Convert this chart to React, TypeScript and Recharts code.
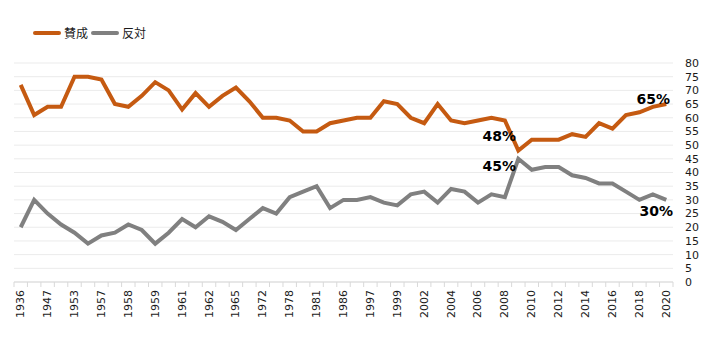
import React from 'react';
import {
  LineChart,
  Line,
  XAxis,
  YAxis,
  CartesianGrid,
  Legend,
  LabelList,
} from 'recharts';

// survey years (every second one is labelled on the axis)
const years = [
  '1936', '1937', '1947', '1949', '1953', '1957', '1957', '1958', '1958', '1959',
  '1959', '1961', '1961', '1961', '1962', '1963', '1965', '1967', '1972', '1973',
  '1978', '1979', '1981', '1985', '1986', '1991', '1997', '1998', '1999', '2001',
  '2002', '2003', '2004', '2005', '2006', '2007', '2008', '2009', '2010', '2011',
  '2012', '2013', '2014', '2015', '2016', '2017', '2018', '2019', '2020',
];

const approve = [
  72, 61, 64, 64, 75, 75, 74, 65, 64, 68, 73, 70, 63, 69, 64, 68, 71, 66, 60, 60,
  59, 55, 55, 58, 59, 60, 60, 66, 65, 60, 58, 65, 59, 58, 59, 60, 59, 48, 52, 52,
  52, 54, 53, 58, 56, 61, 62, 64, 65,
];

const disapprove = [
  20, 30, 25, 21, 18, 14, 17, 18, 21, 19, 14, 18, 23, 20, 24, 22, 19, 23, 27, 25,
  31, 33, 35, 27, 30, 30, 31, 29, 28, 32, 33, 29, 34, 33, 29, 32, 31, 45, 41, 42,
  42, 39, 38, 36, 36, 33, 30, 32, 30,
];

const seriesNames = ['賛成', '反対'];
const yTicks = [0, 5, 10, 15, 20, 25, 30, 35, 40, 45, 50, 55, 60, 65, 70, 75, 80];
const calloutIndexes = [37, 48];

const data = years.map((year, i) => ({
  year,
  approve: approve[i],
  disapprove: disapprove[i],
}));

const W = 707;
const H = 363;
const MARGIN = { top: 63, right: 4, bottom: 5, left: 14 };
const Y_AXIS_W = 30;
const PLOT_W = W - MARGIN.left - MARGIN.right - Y_AXIS_W;
const BAND = PLOT_W / years.length;

const ORANGE = '#C55A11';
const GRAY = '#808080';
const TEXT = '#1a1a1a';
const FONT = '"DejaVu Sans", Verdana, sans-serif';

// label offsets relative to the point, keyed by index
const approveOffsets: Record<number, [number, number]> = { 37: [-19, -15], 48: [-13, -5] };
const disapproveOffsets: Record<number, [number, number]> = { 37: [-19, 7], 48: [-10, 11] };

function XTick(props: any) {
  const { x, y, payload, index } = props;
  const left = x - BAND / 2;
  const isLast = index === years.length - 1;
  return (
    <g>
      <line x1={left} y1={y} x2={left} y2={y + 5} stroke="#D9D9D9" />
      {isLast && <line x1={x + BAND / 2} y1={y} x2={x + BAND / 2} y2={y + 5} stroke="#D9D9D9" />}
      {index % 2 === 0 && (
        <text
          x={x}
          y={y + 8}
          transform={`rotate(-90, ${x}, ${y + 8})`}
          textAnchor="end"
          dominantBaseline="central"
          fontFamily={FONT}
          fontSize={11}
          fill={TEXT}
        >
          {payload.value}
        </text>
      )}
    </g>
  );
}

function makeCallout(offsets: Record<number, [number, number]>) {
  return (props: any) => {
    const { x, y, value, index } = props;
    if (!calloutIndexes.includes(index)) return null;
    const [dx, dy] = offsets[index];
    return (
      <text
        x={x + dx}
        y={y + dy}
        textAnchor="middle"
        dominantBaseline="central"
        fontFamily={FONT}
        fontWeight="bold"
        fontSize={14}
        fill="#000"
      >
        {`${value}%`}
      </text>
    );
  };
}

function LegendContent() {
  const colors = [ORANGE, GRAY];
  return (
    <div style={{ display: 'flex', alignItems: 'center', fontFamily: '"Noto Sans CJK JP", sans-serif', fontSize: 12, color: TEXT }}>
      {seriesNames.map((name, i) => (
        <div key={name} style={{ display: 'flex', alignItems: 'center', marginRight: 3 }}>
          <svg width={28} height={16} style={{ marginRight: 3 }}>
            <line x1={2} y1={8} x2={26} y2={8} stroke={colors[i]} strokeWidth={4} strokeLinecap="round" />
          </svg>
          <span>{name}</span>
        </div>
      ))}
    </div>
  );
}

export default function App() {
  return (
    <div style={{ position: 'absolute', left: 0, top: 0, background: '#fff' }}>
      <LineChart width={W} height={H} data={data} margin={MARGIN}>
        <CartesianGrid vertical={false} stroke="#EBEBEB" />
        <XAxis
          dataKey="year"
          interval={0}
          height={76}
          padding={{ left: BAND / 2, right: BAND / 2 }}
          stroke="#D9D9D9"
          tickLine={false}
          tickSize={0}
          tickMargin={0}
          tick={<XTick />}
        />
        <YAxis
          orientation="right"
          width={Y_AXIS_W}
          domain={[0, 80]}
          ticks={yTicks}
          interval={0}
          axisLine={false}
          tickLine={false}
          tickMargin={6}
          tick={{ fontFamily: FONT, fontSize: 11, fill: TEXT }}
        />
        <Legend
          verticalAlign="middle"
          align="center"
          layout="horizontal"
          wrapperStyle={{ top: 24, left: 33, width: 'auto', height: 'auto' }}
          content={<LegendContent />}
        />
        <Line
          type="linear"
          dataKey="approve"
          name={seriesNames[0]}
          stroke={ORANGE}
          strokeWidth={4}
          dot={false}
          isAnimationActive={false}
        >
          <LabelList dataKey="approve" content={makeCallout(approveOffsets)} />
        </Line>
        <Line
          type="linear"
          dataKey="disapprove"
          name={seriesNames[1]}
          stroke={GRAY}
          strokeWidth={4}
          dot={false}
          isAnimationActive={false}
        >
          <LabelList dataKey="disapprove" content={makeCallout(disapproveOffsets)} />
        </Line>
      </LineChart>
    </div>
  );
}
